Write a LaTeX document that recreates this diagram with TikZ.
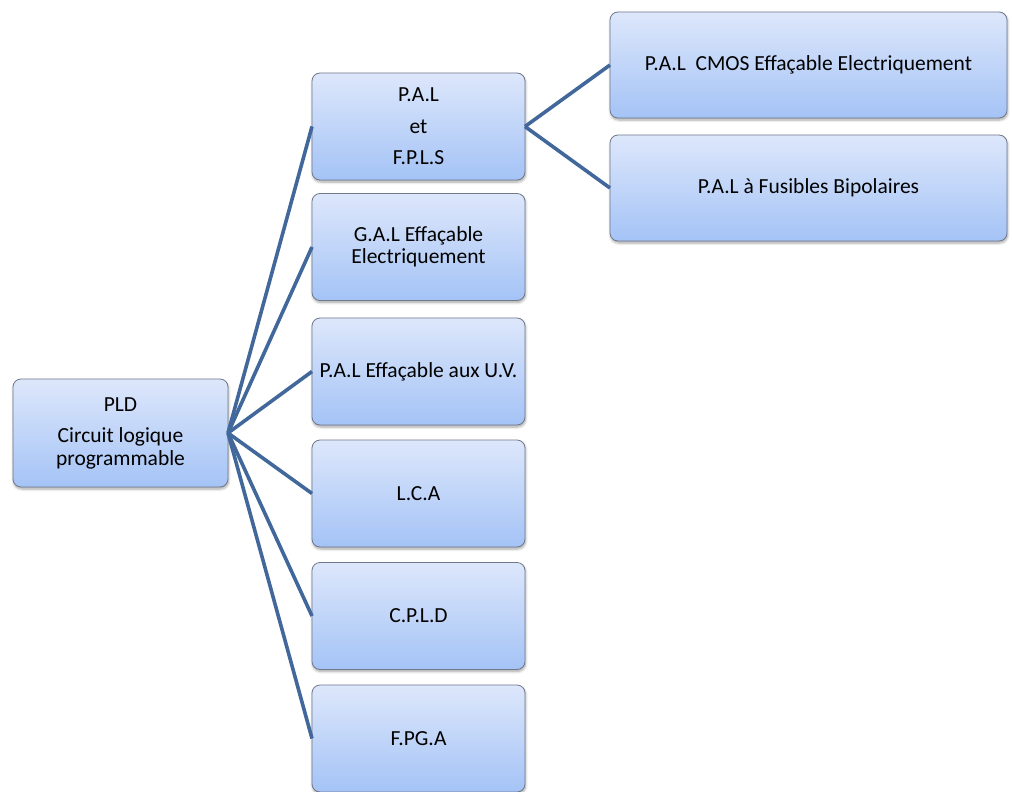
\documentclass[tikz,border=0pt]{standalone}
\usepackage{fontspec}
\setmainfont{Carlito}
\usetikzlibrary{shadows.blur}
\definecolor{linkblue}{RGB}{66,104,155}
\definecolor{boxtop}{RGB}{221,231,251}
\definecolor{boxbottom}{RGB}{164,195,246}
\definecolor{boxedge}{RGB}{112,120,138}
\begin{document}
\begin{tikzpicture}[x=1pt,y=-1pt,
  card/.style={rectangle, rounded corners=8pt, draw=boxedge, line width=0.8pt,
    top color=boxtop, bottom color=boxbottom, inner sep=0pt, outer sep=0pt,
    align=center, font=\fontsize{21.5}{22.5}\selectfont,
    blur shadow={shadow xshift=0.6pt, shadow yshift=-2pt, shadow blur steps=6,
      shadow blur radius=2.5pt, shadow opacity=35}},
  rootcard/.style={card, minimum width=215pt, minimum height=108pt},
  midcard/.style={card, minimum width=213pt, minimum height=107pt},
  leafcard/.style={card, minimum width=397pt, minimum height=106pt},
  link/.style={draw=linkblue, line width=3.6pt}]
\useasboundingbox (0,0) rectangle (1012,792);

% root
\node[rootcard] (pld) at (120.5,433) {PLD\\[9pt]Circuit logique\\programmable};

% first level
\node[midcard] (pal)  at (418.5,126.5) {P.A.L\\[9pt]et\\[9pt]F.P.L.S};
\node[midcard] (gal)  at (418.5,247)   {G.A.L Effaçable\\Electriquement};
\node[midcard] (uv)   at (418.5,371.5) {P.A.L Effaçable aux U.V.};
\node[midcard] (lca)  at (418.5,493.5) {L.C.A};
\node[midcard] (cpld) at (418.5,616)   {C.P.L.D};
\node[midcard] (fpga) at (418.5,738.5) {F.PG.A};

% second level
\node[leafcard] (cmos) at (808.5,65)  {P.A.L~ CMOS Effaçable Electriquement};
\node[leafcard] (fus)  at (808.5,188) {P.A.L à Fusibles Bipolaires};

% connectors
\foreach \n in {pal,gal,uv,lca,cpld,fpga}
  \draw[link] (pld.east) -- (\n.west);
\draw[link] (pal.east) -- (cmos.west);
\draw[link] (pal.east) -- (fus.west);
\end{tikzpicture}
\end{document}
